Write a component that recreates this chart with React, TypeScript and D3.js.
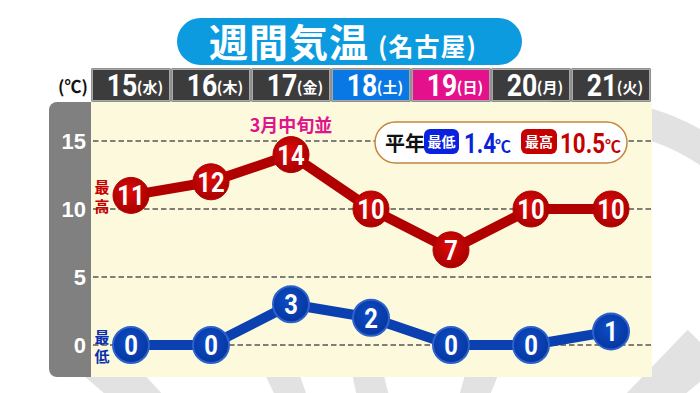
import React from "react";
import * as d3 from "d3";

const days = ["15", "16", "17", "18", "19", "20", "21"];
const weekdays = ["水", "木", "金", "土", "日", "月", "火"];
const dayKinds = ["normal", "normal", "normal", "sat", "sun", "normal", "normal"];
const highTemps = [11, 12, 14, 10, 7, 10, 10];
const lowTemps = [0, 0, 3, 2, 0, 0, 1];
const yTicks = [0, 5, 10, 15];
const normalLow = "1.4";
const normalHigh = "10.5";

const W = 700;
const H = 393;
const plotLeft = 91;
const plotRight = 651;
const plotTop = 102;
const plotBottom = 377;

const JP = "'Noto Sans CJK JP', 'Noto Sans', sans-serif";
const NUM = "Roboto, 'Liberation Sans', sans-serif";

function Narrow({ x, y, sx = 0.84, children, ...rest }: any) {
  return (
    <text transform={`translate(${x},${y}) scale(${sx},1)`} {...rest}>
      {children}
    </text>
  );
}

export default function App() {
  const x = d3.scaleBand<string>().domain(days).range([plotLeft, plotRight]).padding(0);
  const y = d3.scaleLinear().domain([0, 15]).range([345, 141]);
  const cx = (d: string) => (x(d) as number) + x.bandwidth() / 2;

  const line = d3
    .line<number>()
    .x((_, i) => cx(days[i]))
    .y((v) => y(v));

  const ringArc = d3.arc()({
    innerRadius: 205,
    outerRadius: 236,
    startAngle: 0,
    endAngle: Math.PI * 2,
  } as any) as string;

  const wedgeAngles = [-46, -22, 19, 47];
  const wedge = (a: number) =>
    d3.arc()({
      innerRadius: 200,
      outerRadius: 430,
      startAngle: ((a - 3.2) * Math.PI) / 180,
      endAngle: ((a + 3.2) * Math.PI) / 180,
    } as any) as string;

  const headerFill = (k: string) => (k === "sat" ? "#0a78e4" : k === "sun" ? "#e5108b" : "#3c3c3c");

  return (
    <svg width={W} height={H} style={{ position: "absolute", left: 0, top: 0, background: "#fff" }}>
      <defs>
        <radialGradient id="redG" cx="45%" cy="40%" r="60%">
          <stop offset="0%" stopColor="#dc0a0a" />
          <stop offset="100%" stopColor="#a80000" />
        </radialGradient>
        <radialGradient id="blueG" cx="45%" cy="40%" r="60%">
          <stop offset="0%" stopColor="#0d4cc4" />
          <stop offset="100%" stopColor="#0636a0" />
        </radialGradient>
      </defs>
      {/* decorative background */}
      <g fill="#e2e2e2">
        <path d={ringArc} transform="translate(585,335)" />
        {wedgeAngles.map((a) => (
          <path key={a} d={wedge(a)} transform="translate(390,640)" />
        ))}
      </g>

      {/* title pill */}
      <rect x={177} y={18} width={345} height={47} rx={23.5} fill="#0d9be0" />
      <text x={209} y={57} fill="#fff" fontFamily={JP} fontWeight={700} fontSize={39} letterSpacing={1}>
        週間気温
      </text>
      <text x={378} y={56} fill="#fff" fontFamily={JP} fontWeight={700} fontSize={25} letterSpacing={1}>
        (名古屋)
      </text>

      {/* unit label */}
      <text x={73} y={93} textAnchor="middle" fontFamily={JP} fontWeight={700} fontSize={17} fill="#111">
        (℃)
      </text>

      {/* header cells */}
      {days.map((d, i) => (
        <g key={d}>
          <rect x={(x(d) as number) + 0.5} y={68.5} width={x.bandwidth() - 1} height={33} fill="#222" />
          <rect
            x={(x(d) as number) + 1.5}
            y={69.5}
            width={x.bandwidth() - 3}
            height={31}
            fill={headerFill(dayKinds[i])}
            stroke="#a8a8a8"
            strokeWidth={1}
          />
          <Narrow x={cx(d) - 9} y={96} sx={0.86} textAnchor="middle" fill="#fff" fontFamily={NUM} fontWeight={700} fontSize={31}>
            {d}
          </Narrow>
          <text x={cx(d) + 19} y={93} textAnchor="middle" fill="#fff" fontFamily={JP} fontWeight={700} fontSize={15}>
            ({weekdays[i]})
          </text>
        </g>
      ))}

      {/* plot background */}
      <rect x={plotLeft} y={plotTop} width={plotRight - plotLeft + 1} height={plotBottom - plotTop} fill="#fdf9dc" />
      <path
        d={`M${plotLeft},${plotTop} H57 a8,8 0 0 0 -8,8 V${plotBottom - 8} a8,8 0 0 0 8,8 H${plotLeft} Z`}
        fill="#808080"
      />

      {/* grid + ticks */}
      {yTicks.map((t) => (
        <g key={t}>
          <line
            x1={plotLeft + 2}
            x2={plotRight}
            y1={y(t)}
            y2={y(t)}
            stroke="#555"
            strokeWidth={1.6}
            strokeDasharray="5.5,3"
          />
          <text
            x={86}
            y={y(t) + 8}
            textAnchor="end"
            fill="#fff"
            fontFamily="'Liberation Sans', Arial, sans-serif"
            fontWeight={700}
            fontSize={22}
          >
            {t}
          </text>
        </g>
      ))}

      {/* annotation */}
      <text x={cx(days[2])} y={132} textAnchor="middle" fill="#e0148c" fontFamily={JP} fontWeight={700} fontSize={18}>
        3月中旬並
      </text>

      {/* legend */}
      <rect x={375} y={122} width={252} height={41} rx={20.5} fill="#fff" stroke="#c8843c" strokeWidth={1.5} />
      <text x={385} y={151} fontFamily={JP} fontWeight={700} fontSize={20} fill="#111">
        平年
      </text>
      <rect x={424} y={129} width={35} height={25} rx={6} fill="#0a22e0" />
      <text x={441.5} y={147} textAnchor="middle" fontFamily={JP} fontWeight={700} fontSize={14} fill="#fff">
        最低
      </text>
      <Narrow x={464} y={153} sx={0.8} fill="#0a22d8" fontFamily={NUM} fontWeight={700} fontSize={28}>
        {normalLow}
      </Narrow>
      <text x={495} y={152} fill="#0a22d8" fontFamily={JP} fontWeight={700} fontSize={16}>
        ℃
      </text>
      <rect x={521} y={129} width={36} height={25} rx={6} fill="#c40000" />
      <text x={539} y={147} textAnchor="middle" fontFamily={JP} fontWeight={700} fontSize={14} fill="#fff">
        最高
      </text>
      <Narrow x={560} y={153} sx={0.8} fill="#c40000" fontFamily={NUM} fontWeight={700} fontSize={28}>
        {normalHigh}
      </Narrow>
      <text x={605} y={152} fill="#c40000" fontFamily={JP} fontWeight={700} fontSize={16}>
        ℃
      </text>

      {/* series labels */}
      <text x={102} y={y(highTemps[0]) - 2} textAnchor="middle" fill="#c40000" fontFamily={JP} fontWeight={700} fontSize={15}>
        最
      </text>
      <text x={102} y={y(highTemps[0]) + 17} textAnchor="middle" fill="#c40000" fontFamily={JP} fontWeight={700} fontSize={15}>
        高
      </text>
      <text x={102} y={y(lowTemps[0]) - 2} textAnchor="middle" fill="#0a2fb0" fontFamily={JP} fontWeight={700} fontSize={15}>
        最
      </text>
      <text x={102} y={y(lowTemps[0]) + 17} textAnchor="middle" fill="#0a2fb0" fontFamily={JP} fontWeight={700} fontSize={15}>
        低
      </text>

      {/* lines */}
      <path d={line(highTemps) as string} fill="none" stroke="#b00000" strokeWidth={10} strokeLinejoin="round" />
      <path d={line(lowTemps) as string} fill="none" stroke="#0a40b0" strokeWidth={10} strokeLinejoin="round" />

      {/* points */}
      {highTemps.map((v, i) => (
        <g key={"h" + i}>
          <circle cx={cx(days[i])} cy={y(v)} r={18} fill="url(#redG)" stroke="#b40000" strokeWidth={1} />
          <Narrow x={cx(days[i])} y={y(v) + 10} sx={0.85} textAnchor="middle" fill="#fff" fontFamily={NUM} fontWeight={700} fontSize={28}>
            {v}
          </Narrow>
        </g>
      ))}
      {lowTemps.map((v, i) => (
        <g key={"l" + i}>
          <circle cx={cx(days[i])} cy={y(v)} r={18} fill="url(#blueG)" stroke="#2d62cc" strokeWidth={2} />
          <Narrow x={cx(days[i])} y={y(v) + 10} sx={0.85} textAnchor="middle" fill="#fff" fontFamily={NUM} fontWeight={700} fontSize={28}>
            {v}
          </Narrow>
        </g>
      ))}
    </svg>
  );
}
